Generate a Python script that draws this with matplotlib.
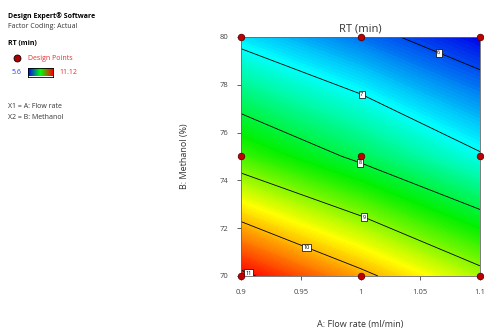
import numpy as np
import matplotlib.pyplot as plt
from matplotlib.colors import LinearSegmentedColormap

plt.rcParams['font.family'] = ['Open Sans', 'DejaVu Sans']

# design levels
flow_rate = [0.9, 1.0, 1.1]
methanol = [70, 75, 80]
# RT (min) at each design point, rows = methanol, cols = flow rate
rt = [[11.12, 10.14, 9.18],
      [8.66, 7.88, 7.06],
      [6.82, 6.20, 5.60]]
rt_min, rt_max = 5.6, 11.12
contour_levels = [6, 7, 8, 9, 10, 11]
label_pos = [(1.065, 79.3), (1.0, 77.5), (1.0, 74.8), (1.0, 72.1), (0.955, 71.2), (0.907, 70.25)]

X, Y = np.meshgrid(flow_rate, methanol)
Z = np.array(rt)

cmap = LinearSegmentedColormap.from_list(
    'de', [(0, '#0000e8'), (0.25, '#00ffff'), (0.5, '#00f000'),
           (0.73, '#ffff00'), (1, '#ff0000')])

fig = plt.figure(figsize=(4.84, 3.31), dpi=100)
ax = fig.add_axes([241 / 484, 1 - 276 / 331, 239 / 484, 239 / 331])

fill = ax.contourf(X, Y, Z, levels=np.linspace(rt_min - 0.01, rt_max + 0.01, 120),
                   cmap=cmap, vmin=rt_min, vmax=rt_max, antialiased=False)
fill.set_edgecolor('face')
cs = ax.contour(X, Y, Z, levels=contour_levels, colors='black', linewidths=0.6)
labels = ax.clabel(cs, fmt='%d', fontsize=4, manual=label_pos, inline=False)
for t in labels:
    t.set_rotation(0)
    t.set_bbox(dict(facecolor='white', edgecolor='black', linewidth=0.5, pad=1))

ax.scatter(X.ravel(), Y.ravel(), s=22, color='#c00000', edgecolor='#600000',
           linewidth=0.6, zorder=5, clip_on=False)

ax.set_xlim(0.9, 1.1)
ax.set_ylim(70, 80)
ax.set_xticks([0.9, 0.95, 1.0, 1.05, 1.1])
ax.set_xticklabels(['0.9', '0.95', '1', '1.05', '1.1'])
ax.set_yticks([70, 72, 74, 76, 78, 80])
ax.tick_params(labelsize=5.5, length=3, width=0.6, colors='#444444', pad=6)
for s in ax.spines.values():
    s.set_color('#666666')
    s.set_linewidth(0.6)
ax.set_title('RT (min)', fontsize=8, color='#333333', pad=4)
ax.set_xlabel('A: Flow rate (ml/min)', fontsize=6.5, color='#333333', labelpad=18)
ax.set_ylabel('B: Methanol (%)', fontsize=6.5, color='#333333', labelpad=22)

# side info panel
fig.text(8 / 484, 1 - 16 / 331, 'Design Expert\u00ae Software', fontsize=5,
         fontweight='bold', va='center')
fig.text(8 / 484, 1 - 26 / 331, 'Factor Coding: Actual', fontsize=5,
         color='#333333', va='center')
fig.text(8 / 484, 1 - 44 / 331, 'RT (min)', fontsize=5, fontweight='bold', va='center')
fig.add_artist(plt.Line2D([17 / 484], [1 - 58 / 331], marker='o', markersize=5,
                          color='#b00000', markeredgecolor='black',
                          markeredgewidth=0.6, transform=fig.transFigure))
fig.text(28 / 484, 1 - 58 / 331, 'Design Points', fontsize=5, color='#e03030', va='center')
bar_ax = fig.add_axes([28 / 484, 1 - 76.5 / 331, 25 / 484, 8.5 / 331])
bar_ax.imshow(np.linspace(0, 1, 100)[None, :], aspect='auto',
              cmap=LinearSegmentedColormap.from_list('bar', ['#0000ff', '#00ff00', '#ff0000']))
bar_ax.set_xticks([])
bar_ax.set_yticks([])
for s in bar_ax.spines.values():
    s.set_linewidth(0.6)
fig.text(12 / 484, 1 - 72 / 331, str(rt_min), fontsize=5, color='#3030ff', va='center')
fig.text(59 / 484, 1 - 72 / 331, str(rt_max), fontsize=5, color='#e03030', va='center')
fig.text(8 / 484, 1 - 107 / 331, 'X1 = A: Flow rate', fontsize=5, color='#333333', va='center')
fig.text(8 / 484, 1 - 117 / 331, 'X2 = B: Methanol', fontsize=5, color='#333333', va='center')

fig.savefig('out.png', dpi=100)
